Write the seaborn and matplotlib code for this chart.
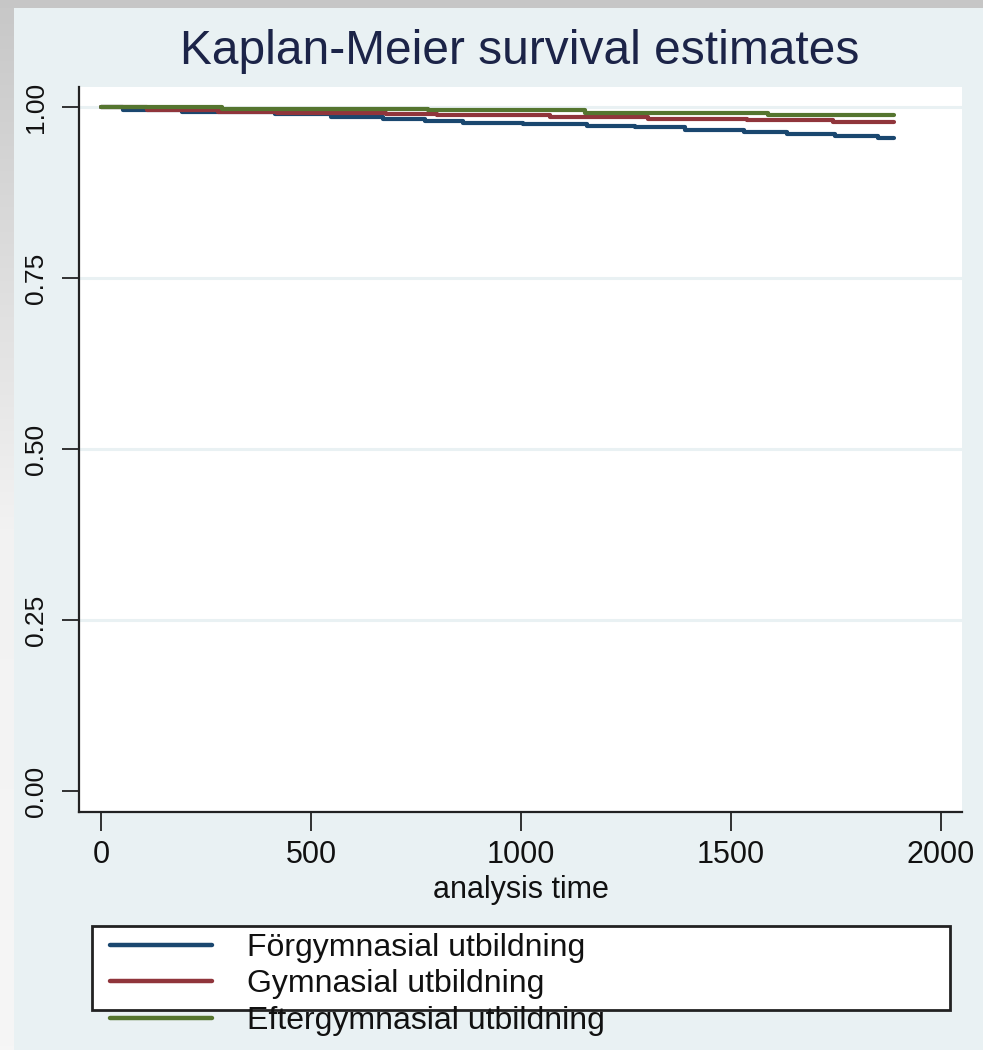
import numpy as np
import pandas as pd
import matplotlib
matplotlib.use("Agg")
import matplotlib.pyplot as plt
import seaborn as sns
from matplotlib.patches import Rectangle

# step points (time, survival)
forgym_t = [0, 52, 194, 414, 547, 671, 771, 862, 1005, 1156, 1271, 1390, 1531, 1633, 1748, 1849, 1888]
forgym_s = [1.000, 0.995, 0.992, 0.989, 0.986, 0.983, 0.980, 0.977, 0.975, 0.972, 0.970, 0.966, 0.963, 0.961, 0.958, 0.955, 0.955]

gym_t = [0, 110, 279, 418, 679, 799, 1069, 1303, 1537, 1744, 1888]
gym_s = [1.000, 0.996, 0.993, 0.991, 0.989, 0.988, 0.986, 0.983, 0.981, 0.978, 0.978]

eftergym_t = [0, 287, 779, 1152, 1588, 1888]
eftergym_s = [1.000, 0.997, 0.995, 0.991, 0.988, 0.988]

groups = ['Förgymnasial utbildning', 'Gymnasial utbildning', 'Eftergymnasial utbildning']
colors = ['#1a476f', '#90353b', '#55752f']
yticks = [0.00, 0.25, 0.50, 0.75, 1.00]
xticks = [0, 500, 1000, 1500, 2000]

df = pd.concat([
    pd.DataFrame({'time': forgym_t, 'surv': forgym_s, 'group': groups[0]}),
    pd.DataFrame({'time': gym_t, 'surv': gym_s, 'group': groups[1]}),
    pd.DataFrame({'time': eftergym_t, 'surv': eftergym_s, 'group': groups[2]}),
])

sns.set_style('white')
plt.rcParams['font.family'] = ['Liberation Sans', 'DejaVu Sans']

panel = '#e9f1f3'
fig = plt.figure(figsize=(9.83, 10.5), dpi=100, facecolor=panel)

# screenshot frame: grey strip on top, fading strip on the left
fig.patches.append(Rectangle((0, 1 - 8/1050), 1, 8/1050, transform=fig.transFigure,
                             facecolor='#c6c6c6', edgecolor='none', zorder=0))
grad = np.linspace(0, 1, 256).reshape(-1, 1)
gax = fig.add_axes([0, 0, 14/983, 1 - 8/1050])
gax.imshow(grad, aspect='auto', cmap=matplotlib.colors.LinearSegmentedColormap.from_list(
    'g', ['#c8c8c8', '#f2f2f2', '#f6f6f6']), extent=[0, 1, 0, 1])
gax.axis('off')

ax = fig.add_axes([79/983, 1 - 812/1050, 883/983, 725/1050])
ax.set_facecolor('white')

sns.lineplot(data=df, x='time', y='surv', hue='group', palette=colors,
             hue_order=groups, estimator=None, sort=False, drawstyle='steps-post',
             linewidth=3.0, ax=ax, legend=False)

ax.set_xlim(-52.4, 2050)
ax.set_ylim(-0.0307, 1.0292)
ax.set_xticks(xticks)
ax.set_xticklabels([str(v) for v in xticks], fontsize=22, color='#111111')
ax.set_yticks(yticks)
ax.set_yticklabels(['%.2f' % v for v in yticks], fontsize=19, rotation=90,
                   va='center', color='#111111')
ax.tick_params(axis='x', length=14, width=1.3, color='#222222', pad=6, direction='out', bottom=True)
ax.tick_params(axis='y', length=12, width=1.3, color='#222222', pad=10, direction='out', left=True)

ax.yaxis.grid(True, color=panel, linewidth=2.2)
ax.xaxis.grid(False)
ax.get_ygridlines()[0].set_visible(False)
ax.set_axisbelow(True)

for s in ['top', 'right']:
    ax.spines[s].set_visible(False)
for s in ['left', 'bottom']:
    ax.spines[s].set_color('#222222')
    ax.spines[s].set_linewidth(1.6)

ax.set_xlabel('analysis time', fontsize=22, color='#111111', labelpad=4)
ax.set_ylabel('')

fig.text(520/983, 1 - 51/1050, 'Kaplan-Meier survival estimates', fontsize=34.5,
         color='#1c2448', ha='center', va='center')

# legend box drawn separately, last entry runs past its bottom edge
fig.patches.append(Rectangle((92/983, 1 - 1010/1050), 858/983, 84/1050,
                             transform=fig.transFigure, facecolor='white',
                             edgecolor='#222222', linewidth=2, zorder=1))
handles = [plt.Line2D([], [], color=c, linewidth=3.2) for c in colors]
leg = fig.legend(handles, groups, loc='upper left', bbox_to_anchor=(110/983, 1 - 933/1050),
                 frameon=False, fontsize=23, handlelength=3.2, handletextpad=1.1,
                 labelspacing=0.2, borderpad=0, borderaxespad=0)
for t in leg.get_texts():
    t.set_color('#111111')

fig.savefig('out.png', dpi=100, facecolor=fig.get_facecolor())
